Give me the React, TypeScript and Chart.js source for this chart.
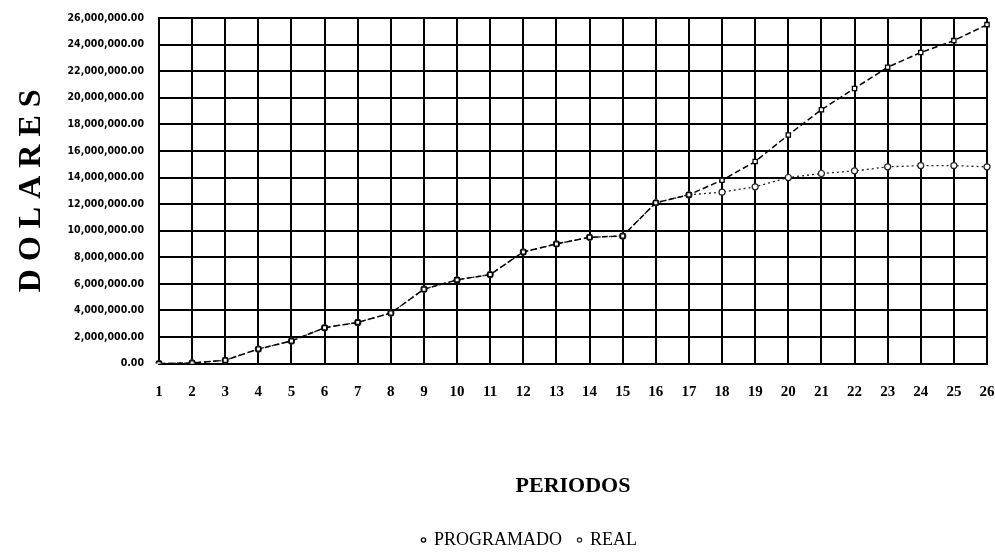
import React, { useEffect, useRef } from "react";
import { Chart, registerables } from "chart.js";

Chart.register(...registerables);

const periods: string[] = ["1","2","3","4","5","6","7","8","9","10","11","12","13","14","15","16","17","18","19","20","21","22","23","24","25","26"];
const programado: number[] = [0, 50000, 250000, 1100000, 1700000, 2700000, 3100000, 3800000, 5600000, 6300000, 6700000, 8400000, 9000000, 9500000, 9600000, 12100000, 12700000, 13800000, 15200000, 17200000, 19100000, 20700000, 22300000, 23400000, 24300000, 25500000];
const real: number[] = [0, 50000, 250000, 1100000, 1700000, 2700000, 3100000, 3800000, 5600000, 6300000, 6700000, 8400000, 9000000, 9500000, 9600000, 12100000, 12700000, 12900000, 13300000, 14000000, 14300000, 14500000, 14800000, 14900000, 14900000, 14800000];
const yMax = 26000000;
const yStep = 2000000;

const legendShift = {
  id: "legendShift",
  afterLayout(chart: any) {
    const l = chart.legend;
    if (l) {
      l.left += 32;
      l.right += 32;
    }
  },
};

export default function App() {
  const ref = useRef<HTMLCanvasElement | null>(null);
  useEffect(() => {
    if (!ref.current) return;
    const chart = new Chart(ref.current, {
      type: "line",
      data: {
        labels: periods,
        datasets: [
          {
            label: "PROGRAMADO",
            data: programado,
            borderColor: "#000",
            backgroundColor: "#fff",
            borderWidth: 1.5,
            borderDash: [6, 3],
            pointStyle: "rect",
            pointRadius: 3,
            pointBorderWidth: 1.3,
            pointBorderColor: "#000",
            pointBackgroundColor: "#fff",
            tension: 0,
          },
          {
            label: "REAL",
            data: real,
            borderColor: "#222",
            backgroundColor: "#fff",
            borderWidth: 1.3,
            borderDash: [2, 3],
            pointStyle: "circle",
            pointRadius: 3,
            pointBorderWidth: 1.2,
            pointBorderColor: "#222",
            pointBackgroundColor: "#fff",
            tension: 0,
          },
        ],
      },
      plugins: [legendShift],
      options: {
        responsive: false,
        animation: false,
        events: [],
        layout: { padding: { top: 18, right: 0, left: 0, bottom: 0 } },
        plugins: {
          tooltip: { enabled: false },
          legend: {
            position: "bottom",
            labels: {
              color: "#000",
              font: { family: "'Liberation Serif', 'Times New Roman', serif", size: 18 },
              usePointStyle: true,
              pointStyle: "circle",
              boxWidth: 3,
              boxHeight: 3,
              padding: 16,
            },
          },
        },
        scales: {
          x: {
            type: "category",
            offset: false,
            grid: { color: "#000", lineWidth: 2, drawTicks: false },
            border: { color: "#000", width: 2 },
            afterFit: (scale: any) => { scale.paddingRight = 8; scale.paddingLeft = 0; },
            ticks: {
              color: "#000",
              padding: 20,
              maxRotation: 0,
              autoSkip: false,
              font: { family: "'Liberation Serif', 'Times New Roman', serif", size: 15, weight: "bold" },
            },
            title: {
              display: true,
              text: "PERIODOS",
              color: "#000",
              font: { family: "'Liberation Serif', 'Times New Roman', serif", size: 22, weight: "bold" },
              padding: { top: 52, bottom: 15 },
            },
          },
          y: {
            type: "linear",
            min: 0,
            max: yMax,
            grid: { color: "#000", lineWidth: 2, drawTicks: false },
            border: { color: "#000", width: 2 },
            afterFit: (scale: any) => { scale.width = 159; scale.paddingTop = 0; scale.paddingBottom = 0; },
            ticks: {
              stepSize: yStep,
              color: "#000",
              padding: 15,
              font: { family: "'DejaVu Sans Condensed', sans-serif", size: 10.5, weight: "bold" },
              callback: (v: any) => Number(v).toLocaleString("en-US", { minimumFractionDigits: 2, maximumFractionDigits: 2 }),
            },
            title: {
              display: true,
              text: "D O L A R E S",
              color: "#000",
              font: { family: "'Liberation Serif', 'Times New Roman', serif", size: 32, weight: "bold" },
              padding: { top: 13, bottom: 0 },
            },
          },
        },
      },
    });
    return () => chart.destroy();
  }, []);
  return (
    <div style={{ position: "fixed", left: 0, top: 0, width: 995, height: 559, background: "#fff" }}>
      <canvas ref={ref} width={995} height={559} />
    </div>
  );
}
